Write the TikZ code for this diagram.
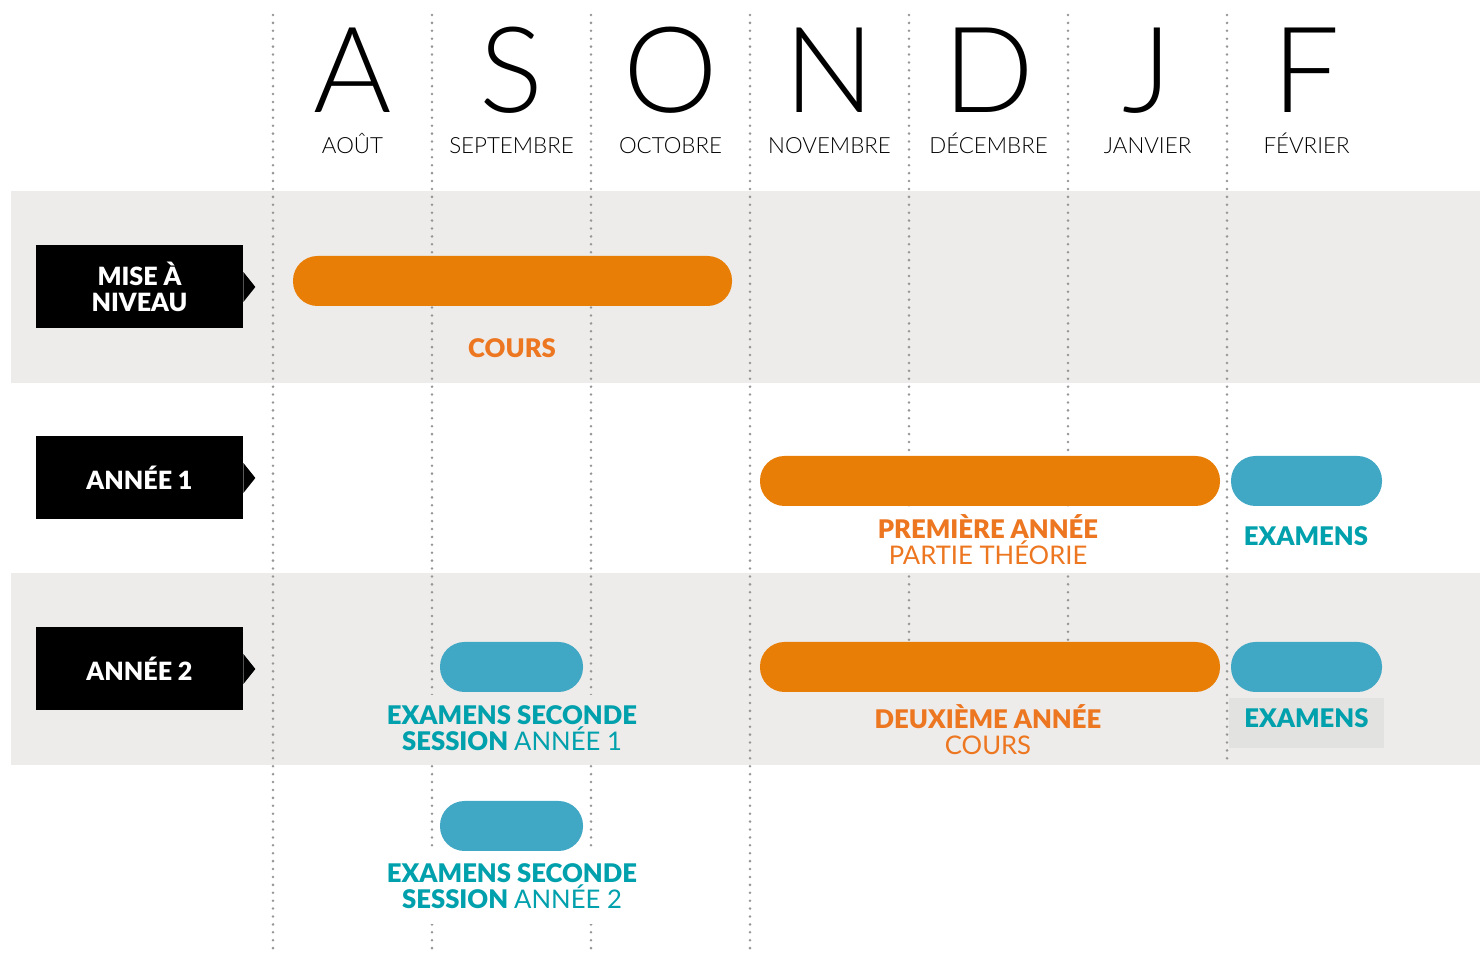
\documentclass[tikz,border=0pt]{standalone}
\usepackage{fontspec}
\usepackage{xcolor}
\usepackage{tikz}
\usetikzlibrary{positioning, calc}
\setmainfont{Lato}
\IfFontExistsTF{Lato Black}{\newfontfamily\heavyfont{Lato Black}}{%
  \IfFontExistsTF{Lato Bold}{\newfontfamily\heavyfont{Lato Bold}[FakeBold=0.8]}{%
    \newfontfamily\heavybase{Lato}\newcommand\heavyfont{\heavybase\bfseries}}}
\IfFontExistsTF{Lato Light}{\newfontfamily\lightfont{Lato Light}}{\newcommand\lightfont{}}
\newcommand\thinfont{\lightfont}
\definecolor{barOrange}{RGB}{233, 126, 6}
\definecolor{barBlue}{RGB}{64, 167, 197}
\definecolor{textOrange}{RGB}{237, 118, 32}
\definecolor{textTeal}{RGB}{0, 160, 172}
\definecolor{bandGrey}{RGB}{237, 236, 234}
\definecolor{examGrey}{RGB}{226, 226, 225}
\definecolor{dotGrey}{RGB}{150, 150, 150}

\tikzset{
  bigmonth/.style={font=\fontsize{68}{68}\selectfont\thinfont, inner sep=0pt, anchor=base},
  monthname/.style={font=\fontsize{12.7}{14}\selectfont\lightfont, inner sep=0pt, anchor=base},
  rowlabel/.style={fill=black, text=white, minimum width=4.14cm, minimum height=1.66cm,
    align=center, inner sep=0pt, font=\fontsize{14.3}{14.8}\selectfont\heavyfont},
  bar/.style={rounded corners=0.49cm, minimum height=1cm, inner sep=0pt},
  barlabel/.style={align=center, inner xsep=0.1cm, inner ysep=0.3cm,
    font=\fontsize{14.6}{14.8}\selectfont\heavyfont},
  gridline/.style={dotGrey, line width=1.6pt, line cap=round, dash pattern=on 0pt off 4.5pt},
}

\begin{document}
\begin{tikzpicture}
        \useasboundingbox (0, 0) rectangle (29.6, 19.26);

        % Bandes grises
        \fill[bandGrey] (0.22, 11.6) rectangle (29.6, 15.44);
        \fill[bandGrey] (0.22, 3.96) rectangle (29.6, 7.8);

        % Lignes pointillées entre les mois
        \foreach \x in {5.46, 8.64, 11.82, 15.0}
            \draw[gridline] (\x, 18.96) -- (\x, 0.16);
        \foreach \x in {18.18, 21.36}
            \draw[gridline] (\x, 18.96) -- (\x, 6.0);
        \draw[gridline] (24.54, 18.96) -- (24.54, 3.96);

        % En-tête des mois
        \foreach \l/\nom [count=\i from 0] in {A/AOÛT, S/SEPTEMBRE, O/OCTOBRE, N/NOVEMBRE, D/DÉCEMBRE, J/JANVIER, F/FÉVRIER} {
            \node[bigmonth] (lettre\i) at (7.05 + 3.18*\i, 17.0) {\l};
            \node[monthname] (mois\i) at (7.05 + 3.18*\i, 16.18) {\nom};
        }

        % Étiquettes des lignes
        \node[rowlabel] (mise) at (2.79, 13.52) {MISE À\\NIVEAU};
        \node[rowlabel] (annee1) at (2.79, 9.7) {ANNÉE 1};
        \node[rowlabel] (annee2) at (2.79, 5.88) {ANNÉE 2};
        \foreach \n in {mise, annee1, annee2}
            \fill ($(\n.east) + (0, 0.3)$) -- ++(0.24, -0.3) -- ++(-0.24, -0.3) -- cycle;

        % Textes sous les barres
        \node[barlabel, text=textOrange, inner ysep=0.1cm] (coursTxt) at (10.24, 12.3) {COURS};
        \node[barlabel, text=textOrange, fill=white, inner ysep=0.12cm] (premTxt) at (19.76, 8.46) {PREMIÈRE ANNÉE\\{\normalfont PARTIE THÉORIE}};
        \node[barlabel, text=textTeal, inner ysep=0.1cm] (exam1Txt) at (26.12, 8.54) {EXAMENS};
        \node[barlabel, text=textTeal, fill=bandGrey, inner ysep=0.2cm] (sess1Txt) at (10.24, 4.7) {EXAMENS SECONDE\\SESSION {\normalfont ANNÉE 1}};
        \node[barlabel, text=textOrange, fill=bandGrey, inner ysep=0.14cm] (deuxTxt) at (19.76, 4.66) {DEUXIÈME ANNÉE\\{\normalfont COURS}};
        \node[barlabel, text=textTeal, fill=examGrey, inner sep=0pt, minimum width=3.1cm, minimum height=1cm, text depth=0.2cm] (exam2Txt) at (26.13, 4.8) {EXAMENS};
        \node[barlabel, text=textTeal, fill=white] (sess2Txt) at (10.24, 1.54) {EXAMENS SECONDE\\SESSION {\normalfont ANNÉE 2}};

        % Barres
        \node[bar, fill=barOrange, minimum width=8.78cm] (cours) at (10.25, 13.64) {};
        \node[bar, fill=barOrange, minimum width=9.2cm] (premiere) at (19.8, 9.64) {};
        \node[bar, fill=barBlue, minimum width=3.02cm] (exam1) at (26.13, 9.64) {};
        \node[bar, fill=barBlue, minimum width=2.86cm] (session1) at (10.23, 5.92) {};
        \node[bar, fill=barOrange, minimum width=9.2cm] (deuxieme) at (19.8, 5.92) {};
        \node[bar, fill=barBlue, minimum width=3.02cm] (exam2) at (26.13, 5.92) {};
        \node[bar, fill=barBlue, minimum width=2.86cm] (session2) at (10.23, 2.74) {};
    \end{tikzpicture}
\end{document}
